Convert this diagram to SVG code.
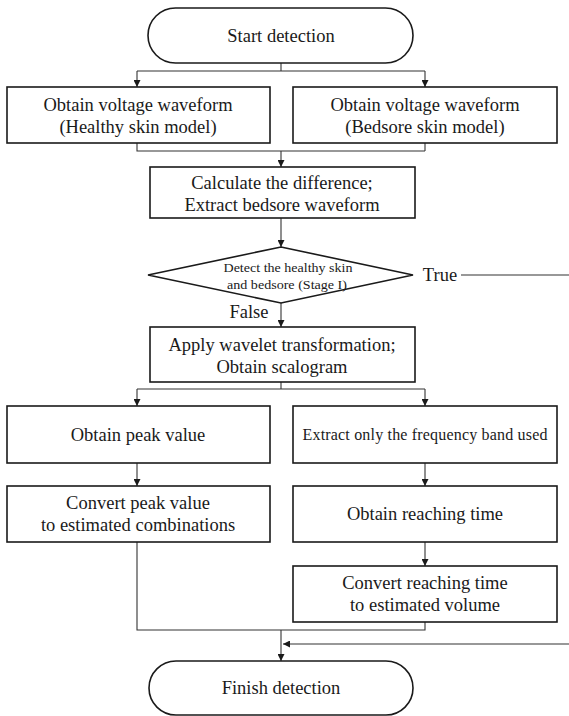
<svg xmlns="http://www.w3.org/2000/svg" width="569" height="716" viewBox="0 0 569 716">
<style>
.box{fill:#fff;stroke:#1a1a1a;stroke-width:1.6}
.t{font-family:"Liberation Serif","Times New Roman",serif;font-size:18.5px;fill:#1a1a1a;text-anchor:middle}
.s{font-family:"Liberation Serif","Times New Roman",serif;font-size:12px;fill:#1a1a1a;text-anchor:middle}
.c{fill:none;stroke:#333;stroke-width:1.1}
</style>
<defs>
<marker id="ah" viewBox="0 0 10 10" refX="10" refY="5" markerWidth="7" markerHeight="7" markerUnits="userSpaceOnUse" orient="auto">
<path d="M0,0 L10,5 L0,10 z" fill="#1a1a1a"/>
</marker>
</defs>
<rect width="569" height="716" fill="#fff"/>
<g id="connectors">
<path class="c" d="M281,63 V71 M137,71 H425"/>
<path class="c" d="M137,71 V87" marker-end="url(#ah)"/>
<path class="c" d="M425,71 V87" marker-end="url(#ah)"/>
<path class="c" d="M137,143 V151 H425 M425,143 V151"/>
<path class="c" d="M281,151 V167" marker-end="url(#ah)"/>
<path class="c" d="M281,218 V247" marker-end="url(#ah)"/>
<path class="c" d="M461,275 H569"/>
<path class="c" d="M281,303 V327" marker-end="url(#ah)"/>
<path class="c" d="M281,382 V389 M137,389 H425"/>
<path class="c" d="M137,389 V406" marker-end="url(#ah)"/>
<path class="c" d="M425,389 V406" marker-end="url(#ah)"/>
<path class="c" d="M137,463 V486" marker-end="url(#ah)"/>
<path class="c" d="M425,463 V486" marker-end="url(#ah)"/>
<path class="c" d="M425,542 V566" marker-end="url(#ah)"/>
<path class="c" d="M137,542 V630 H425 V622"/>
<path class="c" d="M281,630 V661" marker-end="url(#ah)"/>
<path class="c" d="M569,644 H283" marker-end="url(#ah)"/>
<text class="t" x="440" y="281">True</text>
<text class="t" x="249" y="318">False</text>
</g>
<g id="start">
<rect class="box" x="148" y="8" width="265" height="55" rx="27.5"/>
<text class="t" x="281" y="42">Start detection</text>
</g>
<g id="healthy">
<rect class="box" x="7" y="87" width="263" height="56"/>
<text class="t" x="138" y="111">Obtain voltage waveform</text>
<text class="t" x="138" y="133">(Healthy skin model)</text>
</g>
<g id="bedsore">
<rect class="box" x="293" y="87" width="264" height="56"/>
<text class="t" x="425" y="111">Obtain voltage waveform</text>
<text class="t" x="425" y="133">(Bedsore skin model)</text>
</g>
<g id="calculate">
<rect class="box" x="150" y="167" width="265" height="51"/>
<text class="t" x="282" y="189">Calculate the difference;</text>
<text class="t" x="282" y="211">Extract bedsore waveform</text>
</g>
<g id="decision">
<polygon class="box" points="281,247 413,275 281,303 148,275"/>
<text class="s" x="288" y="272" textLength="129" lengthAdjust="spacingAndGlyphs">Detect the healthy skin</text>
<text class="s" x="287" y="289" textLength="120" lengthAdjust="spacingAndGlyphs">and bedsore (Stage I)</text>
</g>
<g id="wavelet">
<rect class="box" x="150" y="327" width="265" height="55"/>
<text class="t" x="282" y="351">Apply wavelet transformation;</text>
<text class="t" x="282" y="373">Obtain scalogram</text>
</g>
<g id="peak">
<rect class="box" x="7" y="406" width="263" height="57"/>
<text class="t" x="138" y="441">Obtain peak value</text>
</g>
<g id="band">
<rect class="box" x="293" y="406" width="264" height="57"/>
<text class="t" x="425" y="440" style="font-size:16px" textLength="245" lengthAdjust="spacing">Extract only the frequency band used</text>
</g>
<g id="convertpeak">
<rect class="box" x="7" y="486" width="263" height="56"/>
<text class="t" x="138" y="509">Convert peak value</text>
<text class="t" x="138" y="531">to estimated combinations</text>
</g>
<g id="reaching">
<rect class="box" x="293" y="486" width="264" height="56"/>
<text class="t" x="425" y="520">Obtain reaching time</text>
</g>
<g id="convertreach">
<rect class="box" x="293" y="566" width="264" height="56"/>
<text class="t" x="425" y="589">Convert reaching time</text>
<text class="t" x="425" y="611">to estimated volume</text>
</g>
<g id="finish">
<rect class="box" x="149" y="661" width="264" height="54" rx="27"/>
<text class="t" x="281" y="694">Finish detection</text>
</g>
</svg>
